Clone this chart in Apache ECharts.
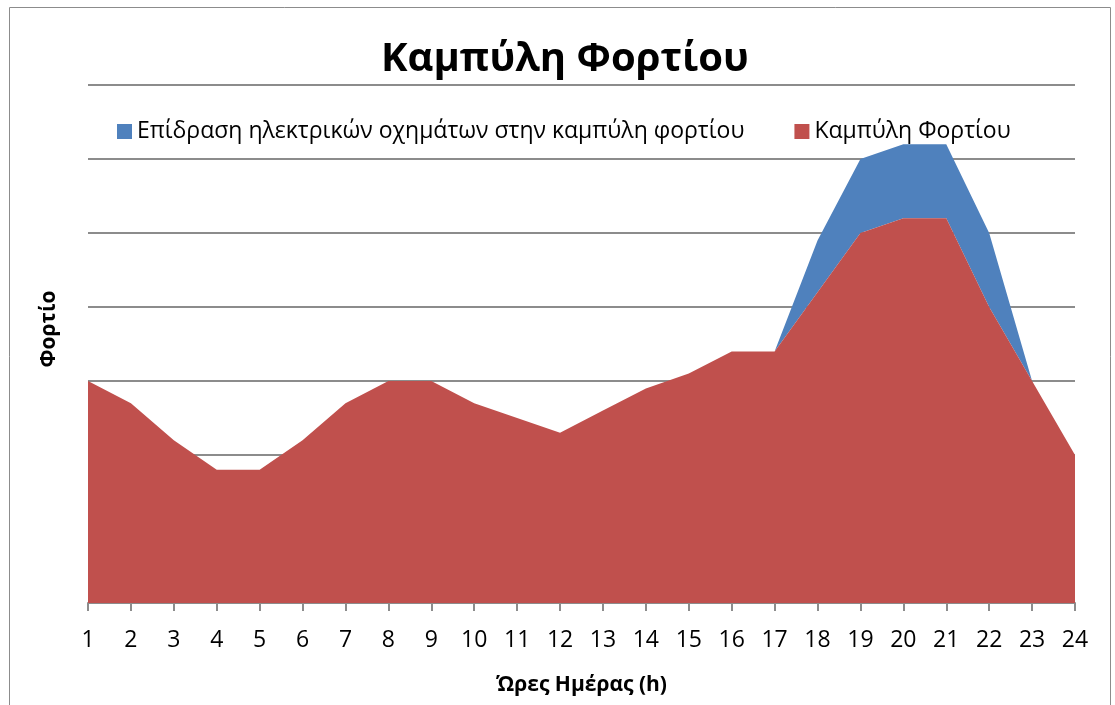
<!DOCTYPE html>
<html><head><meta charset="utf-8">
<script src="https://cdn.jsdelivr.net/npm/echarts@6/dist/echarts.min.js"></script>
<style>html,body{margin:0;padding:0;background:#fff}#c{width:1115px;height:705px}</style>
</head><body><div id="c"></div>
<script>
const hours = ['1','2','3','4','5','6','7','8','9','10','11','12','13','14','15','16','17','18','19','20','21','22','23','24'];
const loadCurve = [30,27,22,18,18,22,27,30,30,27,25,23,26,29,31,34,34,42,50,52,52,40,30,20];
const evImpact = [0,0,0,0,0,0,0,0,0,0,0,0,0,0,0,0,0,7,10,10,10,10,0,0];
const yTicks = {min:0, max:70, interval:10};
const F = '"Open Sans","Noto Sans",sans-serif';
const chart = echarts.init(document.getElementById('c'));
chart.setOption({
  animation:false,
  backgroundColor:'#fff',
  graphic:[{type:'rect',shape:{x:9.5,y:7.5,width:1101,height:710},style:{fill:'none',stroke:'#8c8c8c',lineWidth:1}}],
  title:{text:'Καμπύλη Φορτίου',left:376,top:35,textStyle:{fontFamily:F,fontWeight:'bold',fontSize:40,color:'#000'}},
  legend:{top:115,left:112,itemWidth:15,itemHeight:15,itemGap:50,icon:'rect',
    textStyle:{fontFamily:F,fontSize:23,color:'#000'},
    data:['Επίδραση ηλεκτρικών οχημάτων στην καμπύλη φορτίου','Καμπύλη Φορτίου']},
  grid:{left:88,right:40,top:85,bottom:102},
  xAxis:{type:'category',data:hours,boundaryGap:false,
    name:'Ώρες Ημέρας (h)',nameLocation:'middle',nameGap:72,
    nameTextStyle:{fontFamily:F,fontWeight:'bold',fontSize:21,color:'#000'},
    axisLine:{lineStyle:{color:'#8c8c8c',width:2}},
    axisTick:{alignWithLabel:true,length:8,lineStyle:{color:'#8c8c8c',width:2}},
    axisLabel:{fontFamily:F,fontSize:23,color:'#000',margin:26,interval:0}},
  yAxis:{type:'value',min:yTicks.min,max:yTicks.max,interval:yTicks.interval,
    name:'Φορτίο',nameLocation:'middle',nameGap:28,nameRotate:90,
    nameTextStyle:{fontFamily:F,fontWeight:'bold',fontSize:21,color:'#000',padding:[0,0,0,30]},
    axisLabel:{show:false},axisLine:{show:false},axisTick:{show:false},
    splitLine:{lineStyle:{color:'#8c8c8c',width:2}}},
  series:[
    {name:'Καμπύλη Φορτίου',type:'line',stack:'t',data:loadCurve,symbol:'none',
      lineStyle:{width:0},areaStyle:{color:'#C0504D',opacity:1},itemStyle:{color:'#C0504D'},z:3},
    {name:'Επίδραση ηλεκτρικών οχημάτων στην καμπύλη φορτίου',type:'line',stack:'t',data:evImpact,symbol:'none',
      lineStyle:{width:0},areaStyle:{color:'#4F81BD',opacity:1},itemStyle:{color:'#4F81BD'},z:2}
  ]
});
</script></body></html>
